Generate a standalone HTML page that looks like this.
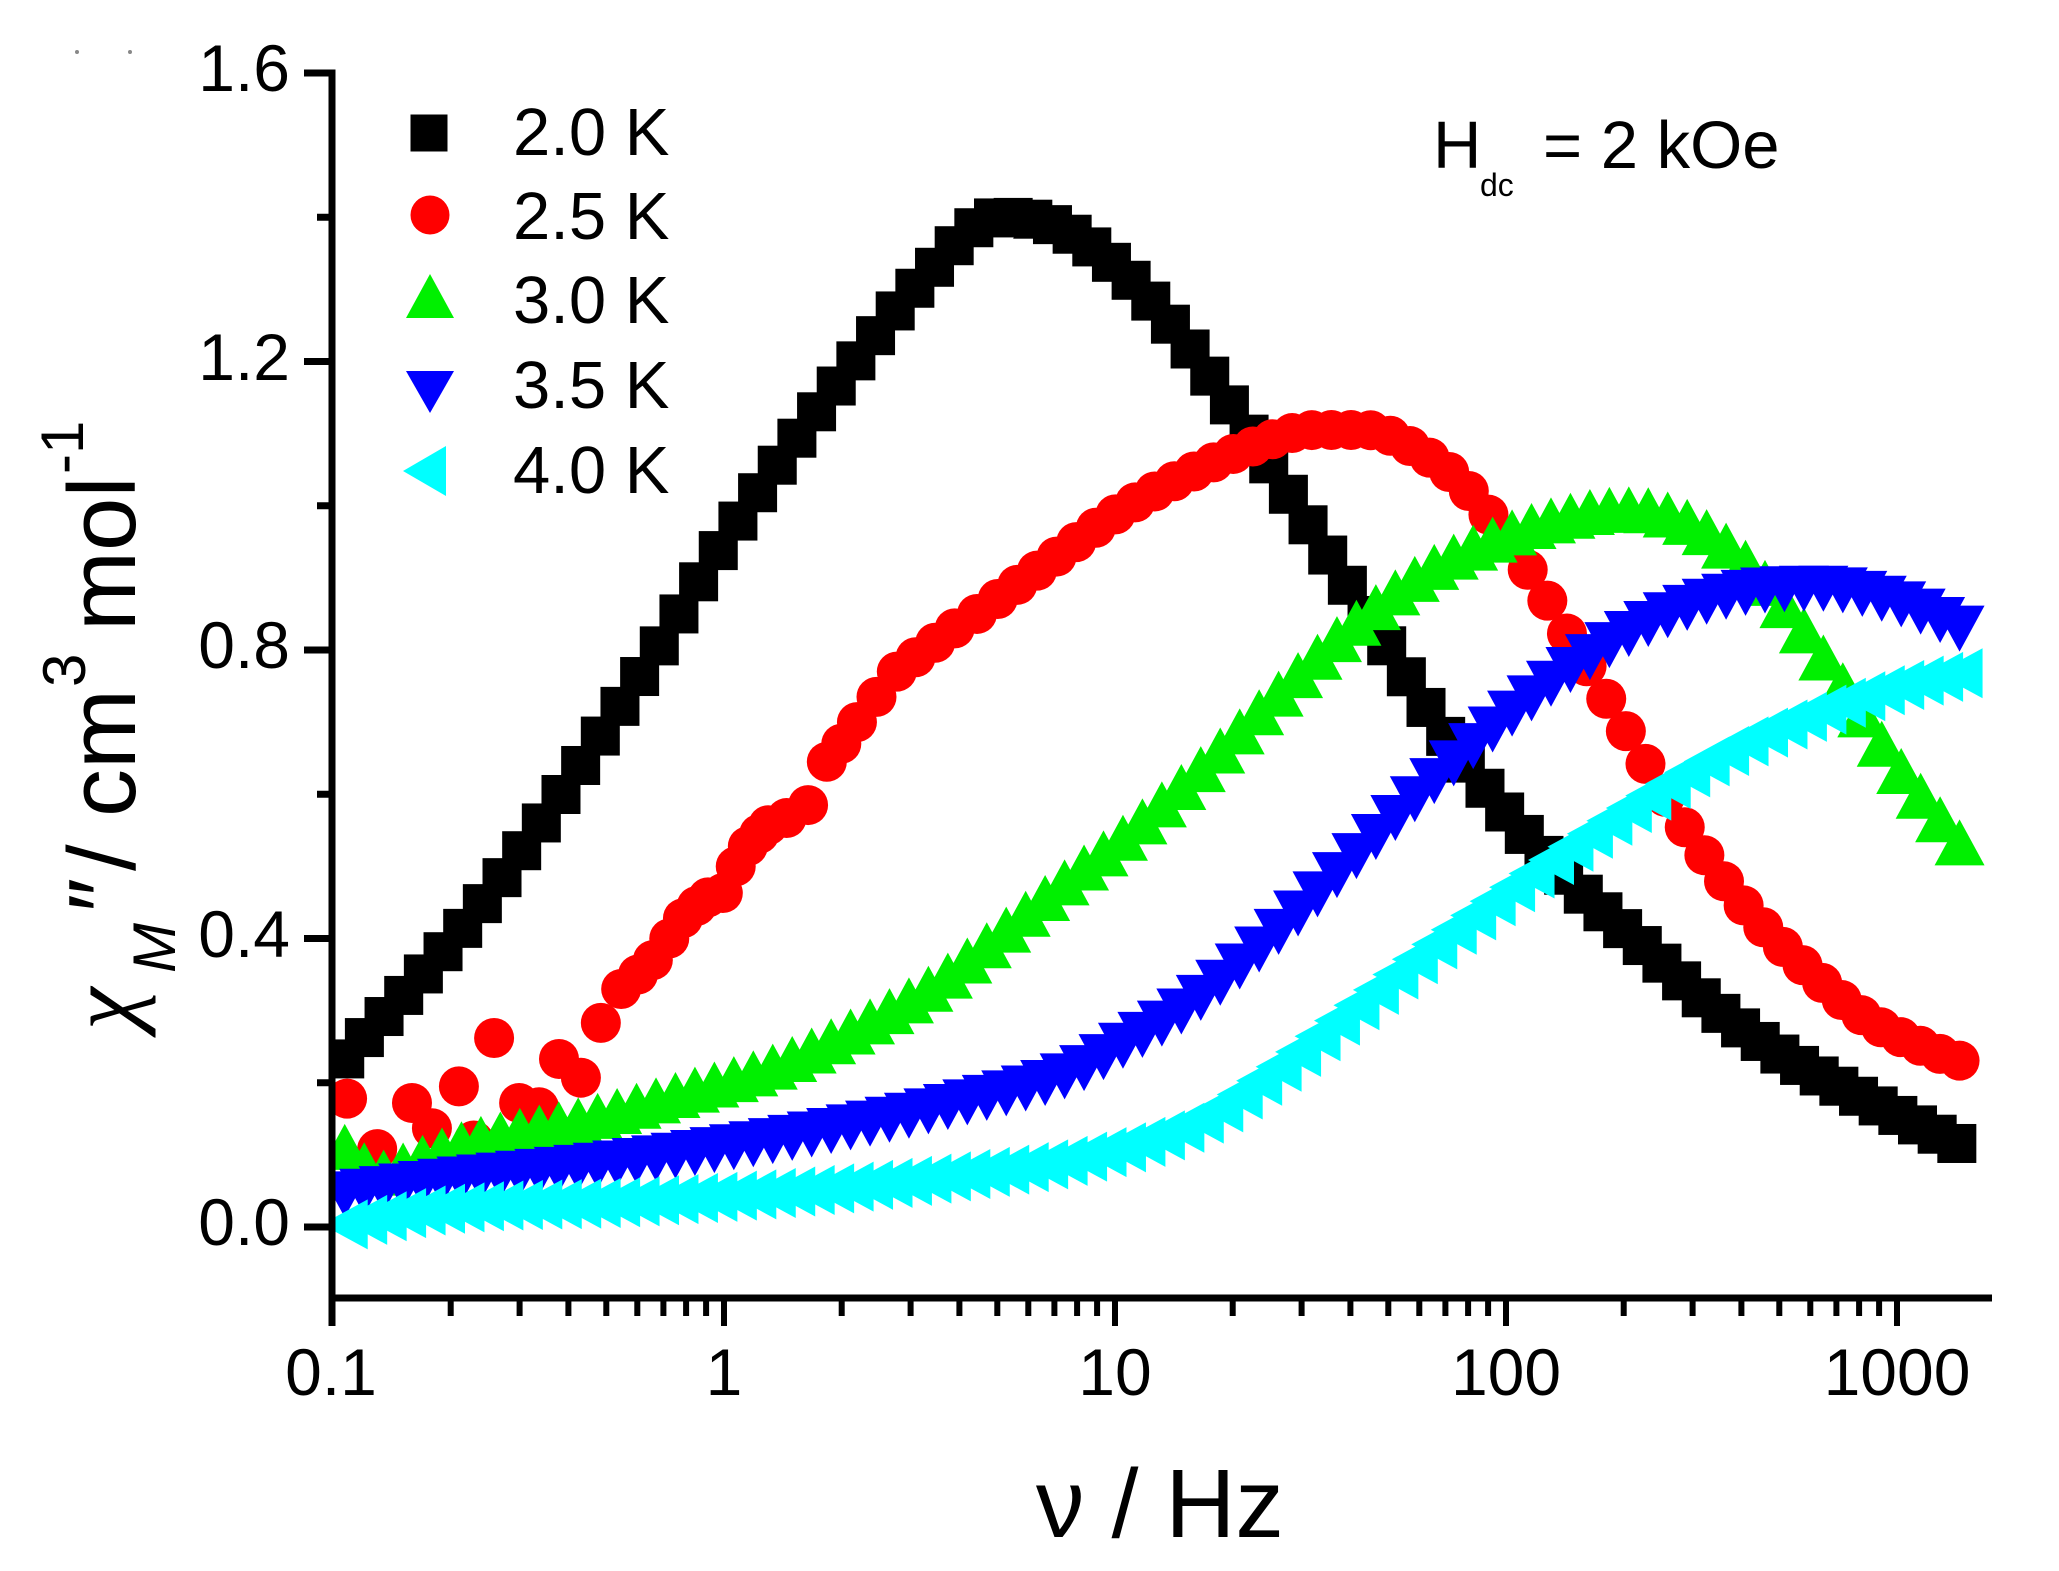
<!DOCTYPE html>
<html>
<head>
<meta charset="utf-8">
<style>
html,body{margin:0;padding:0;background:#fff;}
svg{display:block;}
text{font-family:"Liberation Sans",Arial,sans-serif;fill:#000;}
</style>
</head>
<body>
<svg id="s" width="2059" height="1571" viewBox="0 0 2059 1571" xmlns="http://www.w3.org/2000/svg">
<defs>
<clipPath id="clip"><rect x="333" y="0" width="1726" height="1571"/></clipPath>
</defs>
<rect width="2059" height="1571" fill="#fff"/>

<!-- stray dots top-left -->
<circle cx="77" cy="52" r="2" fill="#888"/>
<circle cx="130" cy="52" r="2" fill="#888"/>

<g id="data" clip-path="url(#clip)"></g>

<!-- axes -->
<g stroke="#000" fill="none">
<line x1="332" y1="69.5" x2="332" y2="1326" stroke-width="7"/>
<line x1="329" y1="1298" x2="1992" y2="1298" stroke-width="7"/>
<path stroke-width="7" d="M304 73H332M304 361.5H332M304 650H332M304 938.5H332M304 1227H332"/>
<path stroke-width="7" d="M317 217.25H332M317 505.75H332M317 794.25H332M317 1082.75H332"/>
<path stroke-width="6" d="M724 1298V1326M1115 1298V1326M1506 1298V1326M1897 1298V1326"/>
<path stroke-width="6" d="
M450.7 1298V1316M519.6 1298V1316M568.4 1298V1316M606.3 1298V1316M637.3 1298V1316M663.4 1298V1316M686.1 1298V1316M706.1 1298V1316
M841.7 1298V1316M910.6 1298V1316M959.4 1298V1316M997.3 1298V1316M1028.3 1298V1316M1054.4 1298V1316M1077.1 1298V1316M1097.1 1298V1316
M1232.7 1298V1316M1301.6 1298V1316M1350.4 1298V1316M1388.3 1298V1316M1419.3 1298V1316M1445.4 1298V1316M1468.1 1298V1316M1488.1 1298V1316
M1623.7 1298V1316M1692.6 1298V1316M1741.4 1298V1316M1779.3 1298V1316M1810.3 1298V1316M1836.4 1298V1316M1859.1 1298V1316M1879.1 1298V1316"/>
</g>

<!-- y tick labels -->
<g font-size="66" text-anchor="end">
<text x="290" y="91">1.6</text>
<text x="290" y="380">1.2</text>
<text x="290" y="668">0.8</text>
<text x="290" y="957">0.4</text>
<text x="290" y="1245">0.0</text>
</g>

<!-- x tick labels -->
<g font-size="66" text-anchor="middle">
<text x="331" y="1395">0.1</text>
<text x="724" y="1395">1</text>
<text x="1115" y="1395">10</text>
<text x="1506" y="1395">100</text>
<text x="1897" y="1395">1000</text>
</g>

<!-- x axis label -->
<text x="1036" y="1537" font-size="97">ν / Hz</text>

<!-- y axis label -->
<g transform="translate(135,1030) rotate(-90)">
<text x="0" y="0" font-size="96" font-style="italic" style="font-family:'Liberation Serif',serif">χ</text>
<text x="57" y="40" font-size="60" font-style="italic">M</text>
<text x="118" y="0" font-size="96">″</text>
<text x="159" y="0" font-size="96">/</text>
<text x="213" y="0" font-size="96">cm</text>
<text x="343" y="-50" font-size="60">3</text>
<text x="399" y="0" font-size="96">mol</text>
<text x="556" y="-52" font-size="60">-1</text>
</g>

<!-- legend -->
<rect x="410.5" y="114.5" width="37" height="37" fill="#000"/>
<circle cx="430" cy="215" r="19.5" fill="#ff0000"/>
<polygon points="430,274 406,318 454,318" fill="#00f000"/>
<polygon points="406,371 454,371 430,413" fill="#0000ff"/>
<polygon points="403,471 446,446 446,496" fill="#00ffff"/>
<g font-size="67">
<text x="513" y="155">2.0 K</text>
<text x="513" y="239">2.5 K</text>
<text x="513" y="323">3.0 K</text>
<text x="513" y="408">3.5 K</text>
<text x="513" y="493">4.0 K</text>
</g>

<!-- field annotation -->
<text x="1433" y="168" font-size="67">H</text>
<text x="1480" y="196" font-size="32">dc</text>
<text x="1543" y="168" font-size="67">= 2 kOe</text>
</svg>

<script>
(function(){
var NS="http://www.w3.org/2000/svg";
var g=document.getElementById('data');
function X(l){return 333+391*(l+1);}
function Y(v){return 1227-721.25*v;}
function add(tag,attrs){var e=document.createElementNS(NS,tag);for(var k in attrs)e.setAttribute(k,attrs[k]);g.appendChild(e);}
function marker(type,l,v,col){
  var x=X(l),y=Y(v);
  if(type==='s')add('rect',{x:x-19.5,y:y-19.5,width:39,height:39,fill:col});
  else if(type==='c')add('circle',{cx:x,cy:y,r:20,fill:col});
  else if(type==='u')add('polygon',{points:x+','+(y-23)+' '+(x-25)+','+(y+23)+' '+(x+25)+','+(y+23),fill:col});
  else if(type==='d')add('polygon',{points:(x-25)+','+(y-23)+' '+(x+25)+','+(y-23)+' '+x+','+(y+23),fill:col});
  else if(type==='l')add('polygon',{points:(x-23)+','+y+' '+(x+23)+','+(y-25)+' '+(x+23)+','+(y+25),fill:col});
}
function mkSpline(pts){
  var n=pts.length,xs=[],ys=[],d=[],m=[],i;
  for(i=0;i<n;i++){xs.push(pts[i][0]);ys.push(pts[i][1]);}
  for(i=0;i<n-1;i++)d.push((ys[i+1]-ys[i])/(xs[i+1]-xs[i]));
  m[0]=d[0];m[n-1]=d[n-2];
  for(i=1;i<n-1;i++)m[i]=(d[i-1]*d[i]<=0)?0:(d[i-1]+d[i])/2;
  for(i=0;i<n-1;i++){
    if(d[i]===0){m[i]=0;m[i+1]=0;continue;}
    var a=m[i]/d[i],b=m[i+1]/d[i],s=a*a+b*b;
    if(s>9){var t=3/Math.sqrt(s);m[i]=t*a*d[i];m[i+1]=t*b*d[i];}
  }
  return function(x){
    var i=0;while(i<n-2&&x>xs[i+1])i++;
    var h=xs[i+1]-xs[i],t=(x-xs[i])/h;
    if(t<0)t=0;if(t>1)t=1;
    var t2=t*t,t3=t2*t;
    return (2*t3-3*t2+1)*ys[i]+(t3-2*t2+t)*h*m[i]+(-2*t3+3*t2)*ys[i+1]+(t3-t2)*h*m[i+1];
  };
}
function series(knots,type,col,start,end,step){
  var f=mkSpline(knots);var n=Math.round((end-start)/(step||0.05));
  for(var i=0;i<=n;i++){var l=start+(end-start)*i/n;marker(type,l,f(l),col);}
}
var black=[[-1.0,0.215],[-0.63,0.44],[-0.21,0.768],[0.0,0.95],[0.168,1.08],[0.336,1.20],[0.503,1.31],[0.705,1.40],[0.839,1.39],[1.007,1.33],[1.174,1.23],[1.342,1.10],[1.51,0.96],[1.678,0.82],[1.846,0.68],[2.013,0.565],[2.181,0.47],[2.349,0.39],[2.517,0.31],[2.685,0.245],[2.852,0.195],[3.02,0.15],[3.16,0.114]];
var redLow=[[-0.964,0.178],[-0.887,0.108],[-0.798,0.172],[-0.747,0.137],[-0.678,0.195],[-0.64,0.12],[-0.588,0.262],[-0.524,0.172],[-0.473,0.166],[-0.422,0.233],[-0.366,0.207],[-0.315,0.283],[-0.263,0.33],[-0.22,0.35],[-0.182,0.37],[-0.14,0.40],[-0.105,0.428],[-0.07,0.445],[-0.041,0.457],[-0.003,0.463],[0.03,0.50],[0.061,0.528],[0.09,0.545],[0.113,0.557],[0.16,0.567],[0.215,0.585],[0.263,0.645],[0.30,0.67],[0.34,0.70],[0.39,0.735],[0.442,0.77],[0.49,0.79],[0.54,0.81],[0.59,0.83],[0.647,0.85]];
var red=[[0.442,0.77],[0.647,0.85],[0.839,0.925],[1.007,0.99],[1.174,1.04],[1.342,1.08],[1.51,1.105],[1.644,1.105],[1.779,1.075],[1.879,1.035],[1.98,0.97],[2.081,0.89],[2.181,0.80],[2.315,0.68],[2.45,0.56],[2.617,0.44],[2.785,0.35],[2.919,0.29],[3.087,0.245],[3.19,0.225]];
var green=[[-1.0,0.13],[-0.95,0.10],[-0.88,0.075],[-0.8,0.09],[-0.7,0.11],[-0.6,0.125],[-0.371,0.148],[-0.118,0.184],[0.138,0.225],[0.391,0.29],[0.55,0.34],[0.647,0.38],[0.9,0.49],[0.987,0.525],[1.2,0.625],[1.4,0.73],[1.6,0.83],[1.8,0.91],[2.0,0.96],[2.2,0.99],[2.3,0.995],[2.4,0.99],[2.55,0.95],[2.7,0.87],[2.85,0.76],[3.0,0.64],[3.18,0.52]];
var blue=[[-1.0,0.043],[-0.75,0.061],[-0.245,0.09],[0.263,0.132],[0.6,0.17],[0.9,0.215],[1.0,0.245],[1.2,0.31],[1.4,0.40],[1.6,0.505],[1.8,0.61],[2.0,0.705],[2.2,0.785],[2.4,0.845],[2.6,0.878],[2.8,0.885],[3.0,0.865],[3.18,0.825]];
var cyan=[[-1.0,0.0],[-0.9,0.012],[-0.75,0.024],[-0.245,0.035],[0.263,0.053],[0.6,0.072],[0.9,0.095],[1.2,0.145],[1.4,0.215],[1.6,0.30],[1.8,0.385],[2.0,0.465],[2.2,0.54],[2.4,0.61],[2.6,0.67],[2.8,0.715],[3.0,0.75],[3.18,0.77]];
series(black,'s','#000000',-0.97,3.153);
for(var i=0;i<redLow.length;i++)marker('c',redLow[i][0],redLow[i][1],'#ff0000');
series(red,'c','#ff0000',0.70,3.16);
series(green,'u','#00f000',-0.97,3.16);
series(blue,'d','#0000ff',-0.97,3.16);
series(cyan,'l','#00ffff',-0.97,3.16);
})();
</script>
</body>
</html>
